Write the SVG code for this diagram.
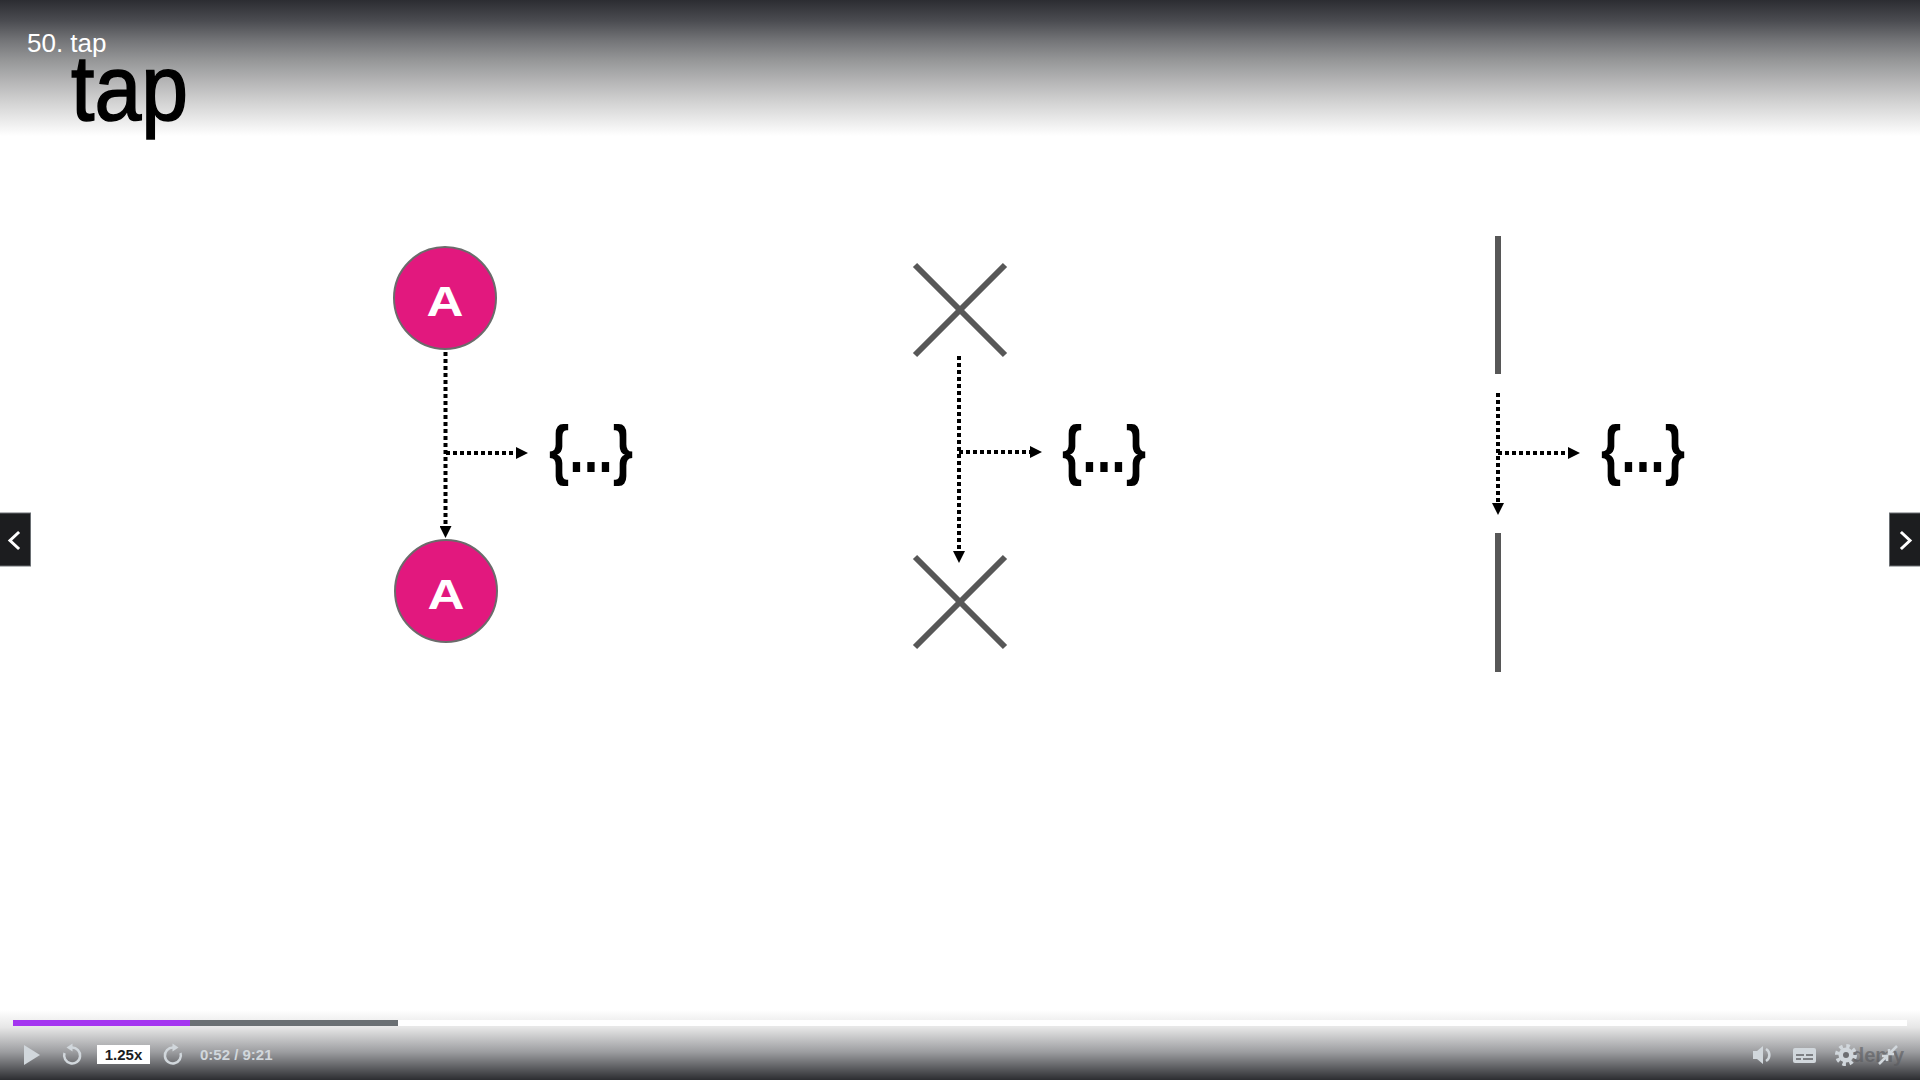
<svg xmlns="http://www.w3.org/2000/svg" width="1920" height="1080" viewBox="0 0 1920 1080">
  <defs>
    <linearGradient id="topGrad" x1="0" y1="0" x2="0" y2="136" gradientUnits="userSpaceOnUse">
      <stop offset="0" stop-color="#2c2d32"/>
      <stop offset="0.15" stop-color="#4a4b50"/>
      <stop offset="0.3" stop-color="#747578"/>
      <stop offset="0.45" stop-color="#979899"/>
      <stop offset="0.6" stop-color="#b5b5b6"/>
      <stop offset="0.75" stop-color="#d2d2d2"/>
      <stop offset="0.9" stop-color="#ededed"/>
      <stop offset="1" stop-color="#ffffff"/>
    </linearGradient>
    <linearGradient id="botGrad" x1="0" y1="1010" x2="0" y2="1080" gradientUnits="userSpaceOnUse">
      <stop offset="0" stop-color="#ffffff"/>
      <stop offset="0.25" stop-color="#e6e6e6"/>
      <stop offset="0.6" stop-color="#9c9da0"/>
      <stop offset="1" stop-color="#2c2d31"/>
    </linearGradient>
    <marker id="arrow" viewBox="0 0 12 12" markerWidth="12" markerHeight="12" refX="0" refY="6" orient="auto" markerUnits="userSpaceOnUse">
      <path d="M0,0 L12,6 L0,12 Z" fill="#000"/>
    </marker>
    <style>
      .dot { fill: none; stroke: #000; stroke-width: 4; stroke-dasharray: 4 3; }
      .node-a circle { fill: #e2187e; stroke: #6b6b6b; stroke-width: 2; }
      .node-a text { fill: #fff; font-family: "Liberation Sans", Arial, sans-serif; font-weight: bold; font-size: 43px; text-anchor: middle; }
      .cross line, .bar line { stroke: #575757; stroke-width: 6; }
      .brace { font-family: "Liberation Sans", Arial, sans-serif; font-weight: bold; font-size: 66px; fill: #000; }
      .icon { fill: #d1d7dc; }
      .iconStroke { fill: none; stroke: #d1d7dc; stroke-width: 2.5; }
      .nav rect { fill: #1c1d1f; stroke: #6a6f73; stroke-width: 1; }
      .nav path { fill: none; stroke: #fff; stroke-width: 3; stroke-linecap: square; }
    </style>
  </defs>

  <rect x="0" y="0" width="1920" height="1080" fill="#ffffff"/>
  <rect x="0" y="0" width="1920" height="136" fill="url(#topGrad)"/>
  <rect x="0" y="1010" width="1920" height="70" fill="url(#botGrad)"/>

  <g id="header">
    <text x="27" y="52" font-family="Liberation Sans, Arial, sans-serif" font-size="26" fill="#ffffff">50. tap</text>
    <text x="71" y="120" font-family="Liberation Sans, Arial, sans-serif" font-size="92" fill="#000000" stroke="#000000" stroke-width="1.6" textLength="117" lengthAdjust="spacingAndGlyphs">tap</text>
  </g>

  <!-- Panel 1 -->
  <g id="nodeA1" class="node-a">
    <circle cx="445" cy="298" r="51"/>
    <text x="445" y="316" textLength="37" lengthAdjust="spacingAndGlyphs">A</text>
  </g>
  <g id="nodeA2" class="node-a">
    <circle cx="446" cy="591" r="51"/>
    <text x="446" y="609" textLength="37" lengthAdjust="spacingAndGlyphs">A</text>
  </g>
  <g id="brace1">
    <text class="brace" x="549" y="472" textLength="84" lengthAdjust="spacingAndGlyphs">{...}</text>
  </g>

  <!-- Panel 2 -->
  <g id="cross1" class="cross">
    <line x1="915" y1="265" x2="1005" y2="355"/>
    <line x1="915" y1="355" x2="1005" y2="265"/>
  </g>
  <g id="cross2" class="cross">
    <line x1="915" y1="557" x2="1005" y2="647"/>
    <line x1="915" y1="647" x2="1005" y2="557"/>
  </g>
  <g id="brace2">
    <text class="brace" x="1062" y="472" textLength="84" lengthAdjust="spacingAndGlyphs">{...}</text>
  </g>

  <!-- Panel 3 -->
  <g id="bar1" class="bar">
    <line x1="1498" y1="236" x2="1498" y2="374"/>
  </g>
  <g id="bar2" class="bar">
    <line x1="1498" y1="533" x2="1498" y2="672"/>
  </g>
  <g id="brace3">
    <text class="brace" x="1601" y="472" textLength="84" lengthAdjust="spacingAndGlyphs">{...}</text>
  </g>

  <g id="connectors">
    <line class="dot" x1="445.5" y1="352" x2="445.5" y2="526" marker-end="url(#arrow)"/>
    <line class="dot" x1="446" y1="453" x2="516" y2="453" marker-end="url(#arrow)"/>
    <line class="dot" x1="959" y1="356" x2="959" y2="551" marker-end="url(#arrow)"/>
    <line class="dot" x1="959" y1="452" x2="1030" y2="452" marker-end="url(#arrow)"/>
    <line class="dot" x1="1498" y1="393" x2="1498" y2="503" marker-end="url(#arrow)"/>
    <line class="dot" x1="1498" y1="453" x2="1568" y2="453" marker-end="url(#arrow)"/>
  </g>

  <!-- Nav buttons -->
  <g id="navLeft" class="nav">
    <rect x="-2" y="513" width="32.5" height="53"/>
    <path d="M18,533 L10,540.5 L18,548"/>
  </g>
  <g id="navRight" class="nav">
    <rect x="1889.5" y="513" width="33" height="53"/>
    <path d="M1902,533 L1910,540.5 L1902,548"/>
  </g>

  <!-- Player controls -->
  <g id="player">
    <rect x="13" y="1020" width="1894" height="6" fill="#ffffff"/>
    <rect x="13" y="1020" width="385" height="6" fill="#6a6f73"/>
    <rect x="13" y="1020" width="177" height="6" fill="#a435f0"/>

    <polygon class="icon" points="24,1045 40,1055 24,1065"/>
    <path class="iconStroke" d="M72,1047.5 A8,8 0 1 1 64.5,1053"/>
    <polygon class="icon" points="66.5,1047.5 72.5,1043.5 72.5,1051.5"/>
    <rect x="97" y="1045" width="53" height="19" fill="#ffffff"/>
    <text x="123.5" y="1059.5" font-family="Liberation Sans, Arial, sans-serif" font-weight="bold" font-size="15" fill="#1c1d1f" text-anchor="middle">1.25x</text>
    <path class="iconStroke" d="M173,1047.5 A8,8 0 1 0 180.5,1053"/>
    <polygon class="icon" points="178.5,1047.5 172.5,1043.5 172.5,1051.5"/>
    <text x="200" y="1059.5" font-family="Liberation Sans, Arial, sans-serif" font-weight="bold" font-size="15" fill="#d1d7dc">0:52 / 9:21</text>

    <polygon class="icon" points="1753,1051 1757,1051 1763,1046 1763,1064 1757,1059 1753,1059"/>
    <path class="iconStroke" d="M1766,1049 A7,7 0 0 1 1766,1061"/>
    <rect x="1793" y="1048" width="23" height="15" rx="2" class="icon"/>
    <rect x="1796" y="1054" width="8" height="2" fill="#7d7f83"/>
    <rect x="1806" y="1054" width="7" height="2" fill="#7d7f83"/>
    <rect x="1796" y="1058" width="5" height="2" fill="#7d7f83"/>
    <rect x="1803" y="1058" width="10" height="2" fill="#7d7f83"/>
    <text x="1852" y="1062" font-family="Liberation Sans, Arial, sans-serif" font-weight="bold" font-size="20" fill="#58595d" fill-opacity="0.6">demy</text>
    <circle cx="1846" cy="1055" r="7.5" class="icon"/>
    <circle cx="1846" cy="1055" r="9" fill="none" stroke="#d1d7dc" stroke-width="4" stroke-dasharray="3.5 3.57"/>
    <circle cx="1846" cy="1055" r="3" fill="#6d6e72"/>
    <path class="iconStroke" d="M1879,1064 L1887,1056 M1882,1056 L1887,1056 L1887,1061"/>
    <path class="iconStroke" d="M1897,1046 L1889,1054 M1894,1054 L1889,1054 L1889,1049"/>
  </g>
</svg>
